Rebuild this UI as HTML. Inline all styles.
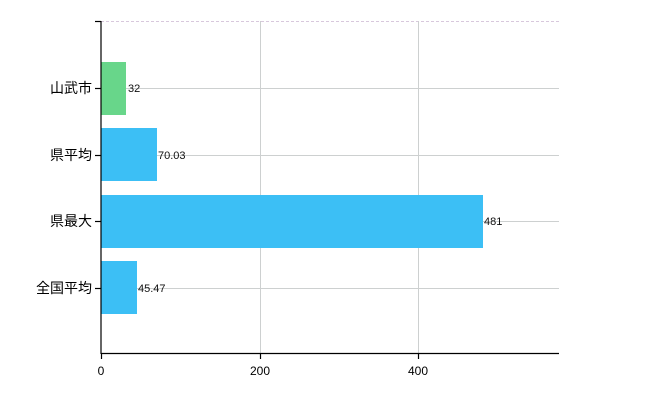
<!DOCTYPE html>
<html><head><meta charset="utf-8"><style>body{margin:0;background:#fff}</style></head><body>
<svg width="650" height="400" xmlns="http://www.w3.org/2000/svg" font-family="Liberation Sans, Noto Sans CJK JP, sans-serif">
<line x1="101" y1="21.5" x2="559" y2="21.5" stroke="#d8c8dc" stroke-dasharray="3,2"/>
<g stroke="#cdd0d0" stroke-width="1">
<line x1="101" y1="88.5" x2="559" y2="88.5"/>
<line x1="101" y1="155.5" x2="559" y2="155.5"/>
<line x1="101" y1="221.5" x2="559" y2="221.5"/>
<line x1="101" y1="288.5" x2="559" y2="288.5"/>
<line x1="260.5" y1="21" x2="260.5" y2="354"/>
<line x1="418.5" y1="21" x2="418.5" y2="354"/>
</g>
<rect x="101" y="62" width="25" height="53" fill="#68d68a"/>
<rect x="101" y="128" width="56" height="53" fill="#3cbff5"/>
<rect x="101" y="195" width="382" height="53" fill="#3cbff5"/>
<rect x="101" y="261" width="36" height="53" fill="#3cbff5"/>
<g font-size="11" fill="#111">
<text x="128" y="92">32</text>
<text x="158" y="159">70.03</text>
<text x="484" y="225">481</text>
<text x="138" y="292">45.47</text>
</g>
<g stroke="#000" stroke-width="1.2">
<line x1="101" y1="21" x2="101" y2="354"/>
<line x1="95" y1="21.5" x2="101" y2="21.5"/>
<line x1="101" y1="353.5" x2="559" y2="353.5"/>
<line x1="95" y1="88.5" x2="101" y2="88.5"/>
<line x1="95" y1="155.5" x2="101" y2="155.5"/>
<line x1="95" y1="221.5" x2="101" y2="221.5"/>
<line x1="95" y1="288.5" x2="101" y2="288.5"/>
<line x1="101.5" y1="354" x2="101.5" y2="359"/>
<line x1="260.5" y1="354" x2="260.5" y2="359"/>
<line x1="418.5" y1="354" x2="418.5" y2="359"/>
</g>
<g font-size="14" fill="#000" text-anchor="end">
<text x="92" y="93">山武市</text>
<text x="92" y="160">県平均</text>
<text x="92" y="226">県最大</text>
<text x="92" y="293">全国平均</text>
</g>
<g font-size="12" fill="#000" text-anchor="middle">
<text x="101" y="375">0</text>
<text x="260" y="375">200</text>
<text x="418" y="375">400</text>
</g>
</svg>
</body></html>
